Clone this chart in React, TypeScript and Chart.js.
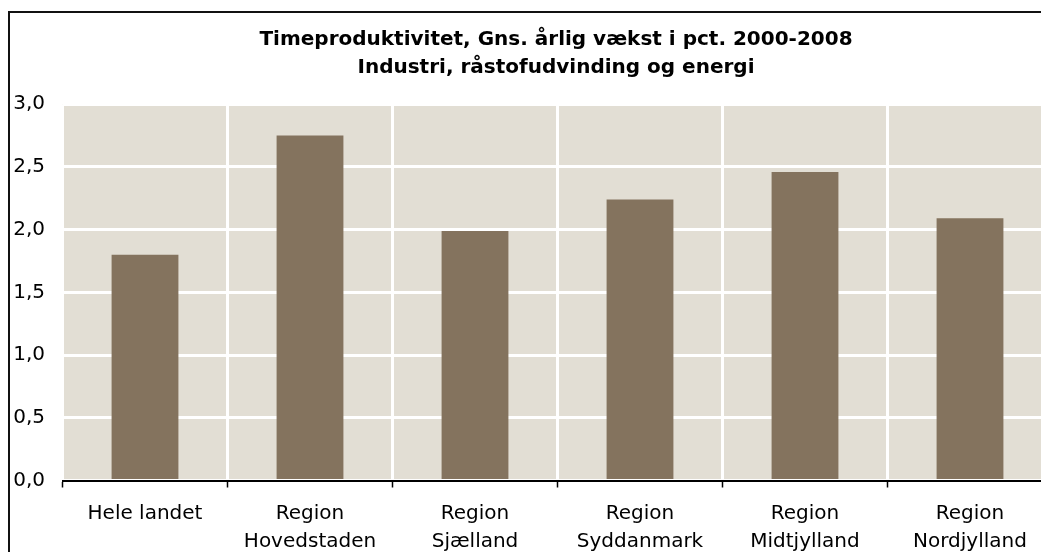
import React, { useEffect, useRef } from "react";
import { Chart, registerables } from "chart.js";

Chart.register(...registerables);

const categories: string[][] = [
  ["Hele landet"],
  ["Region", "Hovedstaden"],
  ["Region", "Sjælland"],
  ["Region", "Syddanmark"],
  ["Region", "Midtjylland"],
  ["Region", "Nordjylland"],
];
const values: number[] = [1.8, 2.75, 1.99, 2.24, 2.46, 2.09];
const titleLines: string[] = [
  "Timeproduktivitet, Gns. årlig vækst i pct. 2000-2008",
  "Industri, råstofudvinding og energi",
];
const yMin = 0;
const yMax = 3;
const yStep = 0.5;

const BAR_COLOR = "#84735E";
const AREA_BG = "#E2DED4";
const FONT = "'DejaVu Sans', Verdana, sans-serif";

const CANVAS_W = 1070;
const CANVAS_H = 560;

const areaBgPlugin = {
  id: "areaBg",
  beforeDraw(chart: any) {
    const { ctx, chartArea } = chart;
    if (!chartArea) return;
    ctx.save();
    ctx.fillStyle = AREA_BG;
    ctx.fillRect(chartArea.left, chartArea.top, chartArea.right - chartArea.left, chartArea.bottom - chartArea.top);
    ctx.restore();
  },
};

const centeredTitlePlugin = {
  id: "centeredTitle",
  afterDraw(chart: any) {
    const { ctx, chartArea } = chart;
    if (!chartArea) return;
    const cx = (chartArea.left + chartArea.right) / 2 - 1.5;
    ctx.save();
    ctx.fillStyle = "#000";
    ctx.font = `bold 20px ${FONT}`;
    ctx.textAlign = "center";
    ctx.textBaseline = "middle";
    titleLines.forEach((line, i) => {
      ctx.fillText(line, cx, 40 + i * 27.3);
    });
    ctx.restore();
  },
};

export default function App() {
  const canvasRef = useRef<HTMLCanvasElement | null>(null);

  useEffect(() => {
    if (!canvasRef.current) return;
    const chart = new Chart(canvasRef.current, {
      type: "bar",
      data: {
        labels: categories,
        datasets: [
          {
            data: values,
            backgroundColor: BAR_COLOR,
            borderWidth: 0,
            barPercentage: 0.405,
            categoryPercentage: 1,
          },
        ],
      },
      plugins: [areaBgPlugin, centeredTitlePlugin],
      options: {
        responsive: false,
        animation: false,
        devicePixelRatio: 1,
        layout: { padding: { left: 0, right: 17.5, top: 104.2, bottom: 0 } },
        plugins: {
          legend: { display: false },
          tooltip: { enabled: false },
          title: { display: false },
        },
        scales: {
          x: {
            grid: {
              color: "#FFFFFF",
              lineWidth: 3,
              offset: true,
              drawTicks: true,
              tickLength: 7,
              tickColor: "#000",
              tickWidth: 1.5,
            },
            border: { display: true, color: "#000", width: 2 },
            ticks: {
              color: "#000",
              font: { family: FONT, size: 20, lineHeight: 1.4 },
              padding: 12,
              maxRotation: 0,
              autoSkip: false,
            },
            afterFit(scale: any) {
              scale.height = CANVAS_H - 480.5;
            },
          },
          y: {
            min: yMin,
            max: yMax,
            grid: { color: "#FFFFFF", lineWidth: 3, drawTicks: false },
            border: { display: false },
            ticks: {
              stepSize: yStep,
              color: "#000",
              padding: 17.5,
              font: { family: FONT, size: 20 },
              callback: (v: any) => Number(v).toFixed(1).replace(".", ","),
            },
            afterFit(scale: any) {
              scale.width = 62.5;
            },
          },
        },
      },
    } as any);
    return () => chart.destroy();
  }, []);

  return (
    <div
      style={{
        position: "fixed",
        left: 0,
        top: 0,
        width: 1041,
        height: 552,
        overflow: "hidden",
        background: "#fff",
      }}
    >
      <div
        style={{
          position: "absolute",
          left: 8,
          top: 11,
          width: 1100,
          height: 600,
          border: "2px solid #111",
          boxSizing: "border-box",
        }}
      />
      <canvas
        ref={canvasRef}
        width={CANVAS_W}
        height={CANVAS_H}
        style={{ position: "absolute", left: 0, top: 0, width: CANVAS_W, height: CANVAS_H }}
      />
    </div>
  );
}
